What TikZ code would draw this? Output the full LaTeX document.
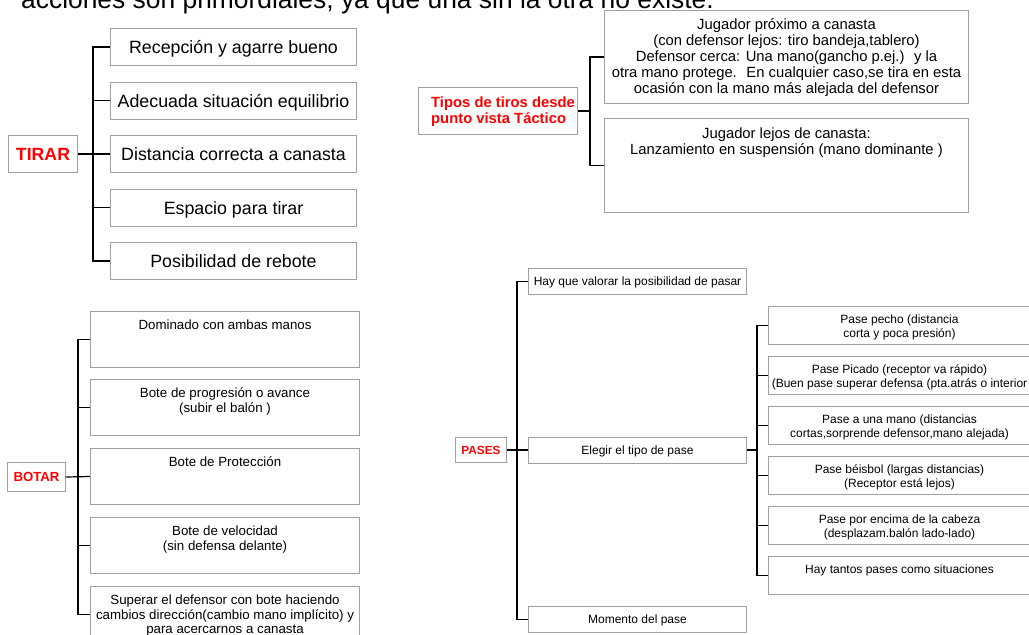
\documentclass[tikz,border=0pt]{standalone}
\usepackage{fontspec}
\setmainfont{Liberation Sans}
\definecolor{boxgray}{HTML}{A0A0A0}
\definecolor{lblred}{HTML}{FF0000}
\newcommand{\fls}{\rule{0pt}{0.95em}}
\begin{document}
\begin{tikzpicture}[x=1pt,y=-1pt,
  gbox/.style={draw=boxgray, line width=1pt, inner sep=0pt, rectangle, anchor=north west},
  capc/.style={text height=#1, text depth=0pt},
  conn/.style={draw=black, line width=1.2pt},
  tx/.style={inner sep=0pt, align=center, anchor=north},
  tchild/.style={gbox, capc=13.2pt, minimum width=246pt, minimum height=37pt, font=\fontsize{17.8}{20}\selectfont},
  bchild/.style={gbox, minimum width=269pt, minimum height=56pt},
  btext/.style={tx, font=\fontsize{13.3}{14.5}\selectfont},
  pchild/.style={gbox, capc=8.6pt, minimum width=218pt, minimum height=26pt, font=\fontsize{12}{14}\selectfont},
  qchild/.style={gbox, minimum width=262pt, minimum height=38pt},
  qtext/.style={tx, font=\fontsize{12}{14}\selectfont}]
\useasboundingbox (0,0) rectangle (1029,635);
\clip (0,0) rectangle (1029,635);

% title line (cut off at top)
\node[anchor=base west, inner sep=0pt, font=\fontsize{26.4}{30}\selectfont] (title) at (21,8.2) {acciones son primordiales, ya que una sin la otra no existe.};

% ---------------- TIRAR
\node[gbox, capc=12.7pt, minimum width=69pt, minimum height=37pt, text=lblred, font=\bfseries\fontsize{17.7}{20}\selectfont] (tirar) at (8,135) {TIRAR};
\node[tchild] (t1) at (110,28) {Recepción y agarre bueno};
\node[tchild] (t2) at (110,81.5) {Adecuada situación equilibrio};
\node[tchild] (t3) at (110,135) {Distancia correcta a canasta};
\node[tchild] (t4) at (110,188.5) {Espacio para tirar};
\node[tchild] (t5) at (110,242) {Posibilidad de rebote};
\coordinate (tbus) at (93,0);
\draw[conn] (t1.west) -- (t1.west -| tbus) -- (t5.west -| tbus) -- (t5.west);
\draw[conn] (t2.west) -- (t2.west -| tbus);
\draw[conn] (t4.west) -- (t4.west -| tbus);
\draw[conn] (tirar.east) -- (t3.west);

% ---------------- Tipos de tiros
\node[gbox, minimum width=159pt, minimum height=47pt] (tipos) at (418,87) {};
\node[tx, anchor=north west, align=left, text=lblred, font=\bfseries\fontsize{14.8}{16}\selectfont] (tiposT) at ([xshift=13pt,yshift=-6.2pt]tipos.north west) {\fls Tipos de tiros desde\\punto vista Táctico};
\node[gbox, minimum width=364pt, minimum height=93pt] (ta) at (604,10) {};
\node[tx, font=\fontsize{14.8}{16}\selectfont] (taT) at ([yshift=-5.4pt]ta.north) {\fls Jugador próximo a canasta\\(con defensor lejos: tiro bandeja,tablero)\\Defensor cerca: Una mano(gancho p.ej.)~ y la\\otra mano protege.~ En cualquier caso,se tira en esta\\ocasión con la mano más alejada del defensor};
\node[gbox, minimum width=364pt, minimum height=94pt] (tb) at (604,118) {};
\node[tx, font=\fontsize{14.8}{16}\selectfont] (tbT) at ([yshift=-6.2pt]tb.north) {\fls Jugador lejos de canasta:\\Lanzamiento en suspensión (mano dominante )};
\coordinate (pbus) at (590,0);
\draw[conn] (ta.west) -- (ta.west -| pbus) -- (tb.west -| pbus) -- (tb.west);
\draw[conn] (tipos.east) -- (tipos.east -| pbus);

% ---------------- BOTAR
\node[gbox, capc=9.45pt, minimum width=58pt, minimum height=29pt, text=lblred, font=\bfseries\fontsize{13.2}{15}\selectfont] (botar) at (7,462) {BOTAR};
\node[bchild] (b1) at (90,311) {};
\node[bchild] (b2) at (90,379) {};
\node[bchild] (b3) at (90,448) {};
\node[bchild] (b4) at (90,517) {};
\node[bchild] (b5) at (90,586) {};
\node[btext] (b1T) at ([yshift=-6pt]b1.north) {\fls Dominado con ambas manos};
\node[btext] (b2T) at ([yshift=-6pt]b2.north) {\fls Bote de progresión o avance\\(subir el balón )};
\node[btext] (b3T) at ([yshift=-6pt]b3.north) {\fls Bote de Protección};
\node[btext] (b4T) at ([yshift=-6pt]b4.north) {\fls Bote de velocidad\\(sin defensa delante)};
\node[btext] (b5T) at ([yshift=-6pt]b5.north) {\fls Superar el defensor con bote haciendo\\cambios dirección(cambio mano implícito) y\\para acercarnos a canasta};
\coordinate (bbus) at (78,0);
\draw[conn] (b1.west) -- (b1.west -| bbus) -- (b5.west -| bbus) -- (b5.west);
\draw[conn] (b2.west) -- (b2.west -| bbus);
\draw[conn] (b4.west) -- (b4.west -| bbus);
\draw[conn] (botar.east) -- (b3.west);

% ---------------- PASES
\node[gbox, capc=8.45pt, minimum width=51pt, minimum height=25pt, text=lblred, font=\bfseries\fontsize{11.8}{14}\selectfont] (pases) at (455,437) {PASES};
\node[pchild] (p1) at (528,268) {Hay que valorar la posibilidad de pasar};
\node[pchild] (p2) at (528,436.5) {Elegir el tipo de pase};
\node[pchild] (p3) at (528,606) {Momento del pase};
\coordinate (pabus) at (517,0);
\draw[conn] (p1.west) -- (p1.west -| pabus) -- (p3.west -| pabus) -- (p3.west);
\draw[conn] (pases.east) -- (p2.west);

\node[qchild] (q1) at (768,306) {};
\node[qchild] (q2) at (768,356) {};
\node[qchild] (q3) at (768,406) {};
\node[qchild] (q4) at (768,456) {};
\node[qchild] (q5) at (768,506) {};
\node[qchild] (q6) at (768,556) {};
\node[qtext] (q1T) at ([yshift=-5.6pt]q1.north) {\fls Pase pecho (distancia\\corta y poca presión)};
\node[qtext] (q2T) at ([yshift=-5.6pt]q2.north) {\fls Pase Picado (receptor va rápido)\\(Buen pase superar defensa (pta.atrás o interior};
\node[qtext] (q3T) at ([yshift=-5.6pt]q3.north) {\fls Pase a una mano (distancias\\cortas,sorprende defensor,mano alejada)};
\node[qtext] (q4T) at ([yshift=-5.6pt]q4.north) {\fls Pase béisbol (largas distancias)\\(Receptor está lejos)};
\node[qtext] (q5T) at ([yshift=-5.6pt]q5.north) {\fls Pase por encima de la cabeza\\(desplazam.balón lado-lado)};
\node[qtext] (q6T) at ([yshift=-5.6pt]q6.north) {\fls Hay tantos pases como situaciones};
\coordinate (qbus) at (757,0);
\draw[conn] (q1.west) -- (q1.west -| qbus) -- (q6.west -| qbus) -- (q6.west);
\draw[conn] (q2.west) -- (q2.west -| qbus);
\draw[conn] (q3.west) -- (q3.west -| qbus);
\draw[conn] (q4.west) -- (q4.west -| qbus);
\draw[conn] (q5.west) -- (q5.west -| qbus);
\draw[conn] (p2.east) -- (p2.east -| qbus);
\end{tikzpicture}
\end{document}
